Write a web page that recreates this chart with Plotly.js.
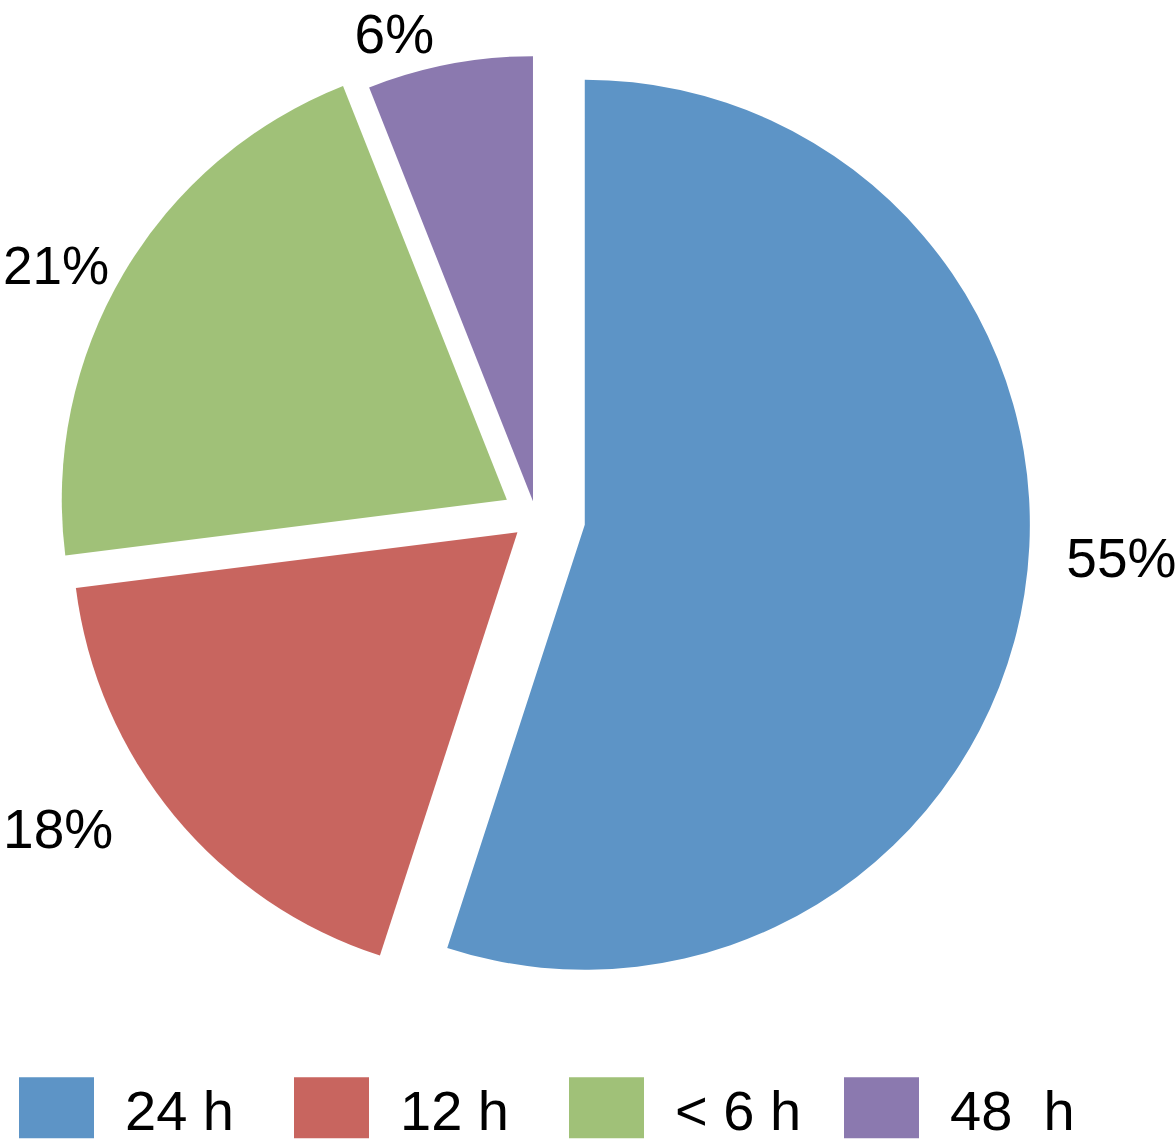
<!DOCTYPE html>
<html>
<head>
<meta charset="utf-8">
<script src="https://cdn.plot.ly/plotly-3.0.1.min.js"></script>
<style>
  html, body { margin: 0; padding: 0; background: #ffffff; }
  #chart { width: 1175px; height: 1142px; }
</style>
</head>
<body>
<div id="chart"></div>
<script>
// ---- data ----
const categories = ['24 h', '12 h', '< 6 h', '48  h'];
const shares = [55, 18, 21, 6];
const sliceColors = ['#5D94C6', '#C8655F', '#A0C178', '#8B79AF'];
const slicePull = [0.111, 0.054, 0.076, 0.036];

// label templates (a blank line / trailing spaces only nudge where the outside label sits)
const NB = '\u00a0';
const labelTemplates = [
  '%{percent:.0%}<br><span style="font-size:150px">' + NB + '</span>',
  '%{percent:.0%}' + NB + NB + NB,
  '%{percent:.0%}',
  '%{percent:.0%}'
];
const labelSizes = [55, 55, 53, 55];

const trace = {
  type: 'pie',
  labels: categories,
  values: shares,
  sort: false,
  direction: 'clockwise',
  rotation: 0,
  pull: slicePull,
  marker: { colors: sliceColors, line: { width: 0 } },
  textinfo: 'percent',
  texttemplate: labelTemplates,
  textposition: 'outside',
  outsidetextfont: { family: 'Liberation Sans, Arial, sans-serif', size: labelSizes, color: '#000000' },
  hoverinfo: 'label+percent',
  domain: { x: [0.0353, 0.877], y: [0.1143, 0.9803] },
  automargin: false
};

const layout = {
  width: 1175,
  height: 1142,
  margin: { l: 0, r: 0, t: 0, b: 0, autoexpand: false },
  paper_bgcolor: '#ffffff',
  font: { family: 'Liberation Sans, Arial, sans-serif', color: '#000000' },
  showlegend: true,
  legend: {
    orientation: 'h',
    x: 0,
    xanchor: 'left',
    y: -0.0078,
    yanchor: 'bottom',
    font: { size: 56, color: '#000000' },
    itemwidth: 115,
    entrywidth: 145,
    borderwidth: 0,
    bgcolor: 'rgba(0,0,0,0)'
  }
};

Plotly.newPlot('chart', [trace], layout, { staticPlot: true }).then(function (gd) {
  // enlarge the legend swatches to the big squares of the reference
  gd.querySelectorAll('.legendpie').forEach(function (p) {
    p.setAttribute('d', 'M31.5,30.5H-43.5V-30.5H31.5Z');
  });
});
</script>
</body>
</html>
